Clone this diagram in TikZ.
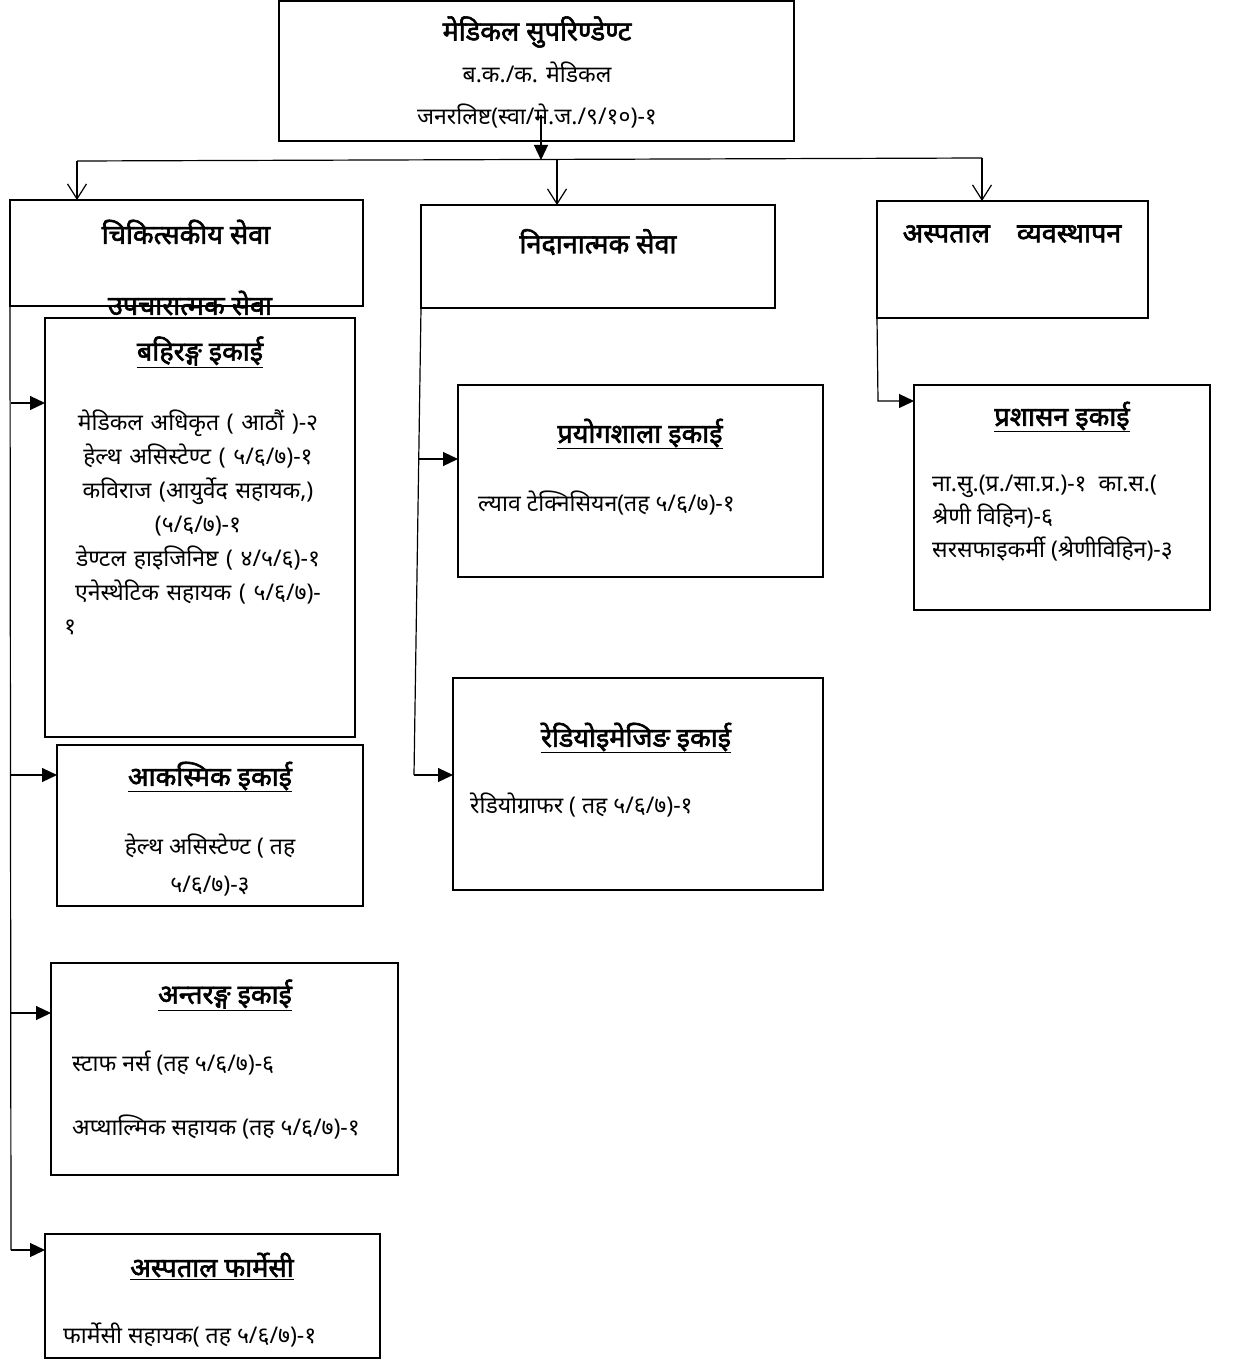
\documentclass[tikz,border=0pt]{standalone}
\usepackage{fontspec}
\setmainfont[Script=Devanagari, BoldFont={Noto Sans}, BoldFeatures={FakeBold=2.2}]{Noto Sans}
\usetikzlibrary{arrows.meta}
\tikzset{
  unitbox/.style={draw, line width=1.6pt, inner sep=0pt, outer sep=0pt, anchor=north west},
  headtext/.style={font=\fontsize{27}{30}\selectfont\bfseries, inner sep=0pt},
  bodytext/.style={font=\fontsize{23}{34}\selectfont, align=center, inner sep=0pt},
  linetext/.style={font=\fontsize{23}{26}\selectfont, anchor=west, inner sep=0pt},
  fillarrow/.style={-{Triangle[length=15pt,width=14pt]}, line width=1.2pt},
  openarrow/.style={-{Straight Barb[length=15pt,width=19pt]}, line width=1.2pt},
}
\begin{document}
\begin{tikzpicture}[x=1pt,y=-1pt]
\useasboundingbox (0,0) rectangle (1234,1359);

\node[unitbox, minimum width=515pt, minimum height=140pt] (sup) at (279,1) {};
\node[headtext] (supT) at (537,32) {मेडिकल सुपरिण्डेण्ट};
\node[bodytext, font=\fontsize{23}{42}\selectfont] (supB) at (537,95) {ब.क./क. मेडिकल\\जनरलिष्ट(स्वा/मे.ज./९/१०)-१};

\node[unitbox, minimum width=353pt, minimum height=106pt] (chik) at (10,200) {};
\node[headtext] (chikT) at (186,232) {चिकित्सकीय सेवा};
\node[headtext] (chikS) at (190,303) {उपचारात्मक सेवा};

\node[unitbox, minimum width=354pt, minimum height=103pt] (nidan) at (421,205) {};
\node[headtext] (nidanT) at (598,242) {निदानात्मक सेवा};

\node[unitbox, minimum width=271pt, minimum height=117pt] (asp) at (877,201) {};
\node[headtext] (aspT) at (1012,234) {अस्पताल\quad व्यवस्थापन};

\node[unitbox, minimum width=310pt, minimum height=419pt] (bahir) at (45,318) {};
\node[headtext] (bahirT) at (200,352) {\underline{बहिरङ्ग इकाई}};
\node[bodytext, text width=268pt] (bahirB) at (198,522) {मेडिकल अधिकृत ( आठौं )-२\\हेल्थ असिस्टेण्ट ( ५/६/७)-१\\कविराज (आयुर्वेद सहायक,)\\(५/६/७)-१\\डेण्टल हाइजिनिष्ट ( ४/५/६)-१\\एनेस्थेटिक सहायक ( ५/६/७)-\\\hbox to \hsize{१\hfil}};

\node[unitbox, minimum width=306pt, minimum height=161pt] (aakas) at (57,745) {};
\node[headtext] (aakasT) at (210,777) {\underline{आकस्मिक इकाई}};
\node[bodytext, font=\fontsize{23}{38}\selectfont] (aakasB) at (210,865) {हेल्थ असिस्टेण्ट ( तह\\५/६/७)-३};

\node[unitbox, minimum width=347pt, minimum height=212pt] (antar) at (51,963) {};
\node[headtext] (antarT) at (225,995) {\underline{अन्तरङ्ग इकाई}};
\node[linetext] (antarA) at (72,1063) {स्टाफ नर्स (तह ५/६/७)-६};
\node[linetext] (antarB) at (72,1127) {अप्थाल्मिक सहायक (तह ५/६/७)-१};

\node[unitbox, minimum width=335pt, minimum height=124pt] (pharm) at (45,1234) {};
\node[headtext] (pharmT) at (212,1266) {\underline{अस्पताल फार्मेसी}};
\node[linetext] (pharmA) at (63,1335) {फार्मेसी सहायक( तह ५/६/७)-१};

\node[unitbox, minimum width=365pt, minimum height=192pt] (prayog) at (458,385) {};
\node[headtext] (prayogT) at (640,434) {\underline{प्रयोगशाला इकाई}};
\node[linetext] (prayogA) at (478,503) {ल्याव टेक्निसियन(तह ५/६/७)-१};

\node[unitbox, minimum width=370pt, minimum height=212pt] (radio) at (453,678) {};
\node[headtext] (radioT) at (636,738) {\underline{रेडियोइमेजिङ इकाई}};
\node[linetext] (radioA) at (470,805) {रेडियोग्राफर ( तह ५/६/७)-१};

\node[unitbox, minimum width=296pt, minimum height=225pt] (prash) at (914,385) {};
\node[headtext] (prashT) at (1062,417) {\underline{प्रशासन इकाई}};
\node[linetext, align=left, font=\fontsize{23}{33}\selectfont] (prashA) at (932,518) {ना.सु.(प्र./सा.प्र.)-१~~का.स.(\\श्रेणी विहिन)-६\\सरसफाइकर्मी (श्रेणीविहिन)-३};

\coordinate (bus) at (541,160);
\coordinate (busL) at (77,161);
\coordinate (busM) at (557,160);
\coordinate (busR) at (982,158);
\draw[fillarrow] ([yshift=26pt]sup.south -| bus) -- (bus);
\draw[line width=1.2pt] (busL) -- (busR);
\draw[openarrow] (busL) -- (busL |- chik.north);
\draw[openarrow] (busM) -- (busM |- nidan.north);
\draw[openarrow] (busR) -- (busR |- asp.north);

\coordinate (t1) at (11,403);
\coordinate (t2) at (11,775);
\coordinate (t3) at (11,1013);
\coordinate (t4) at (11,1250);
\draw[line width=1.2pt] (chik.south west) -- (t4);
\draw[fillarrow] (t1) -- (t1 -| bahir.west);
\draw[fillarrow] (t2) -- (t2 -| aakas.west);
\draw[fillarrow] (t3) -- (t3 -| antar.west);
\draw[fillarrow] (t4) -- (t4 -| pharm.west);

\coordinate (n1) at (418.7,459);
\coordinate (n2) at (414,775);
\draw[line width=1.2pt] (nidan.south west) -- (n2);
\draw[fillarrow] (n1) -- (n1 -| prayog.west);
\draw[fillarrow] (n2) -- (n2 -| radio.west);

\coordinate (a1) at (878,401);
\draw[fillarrow] (asp.south west) -- (a1) -- (a1 -| prash.west);
\end{tikzpicture}
\end{document}
